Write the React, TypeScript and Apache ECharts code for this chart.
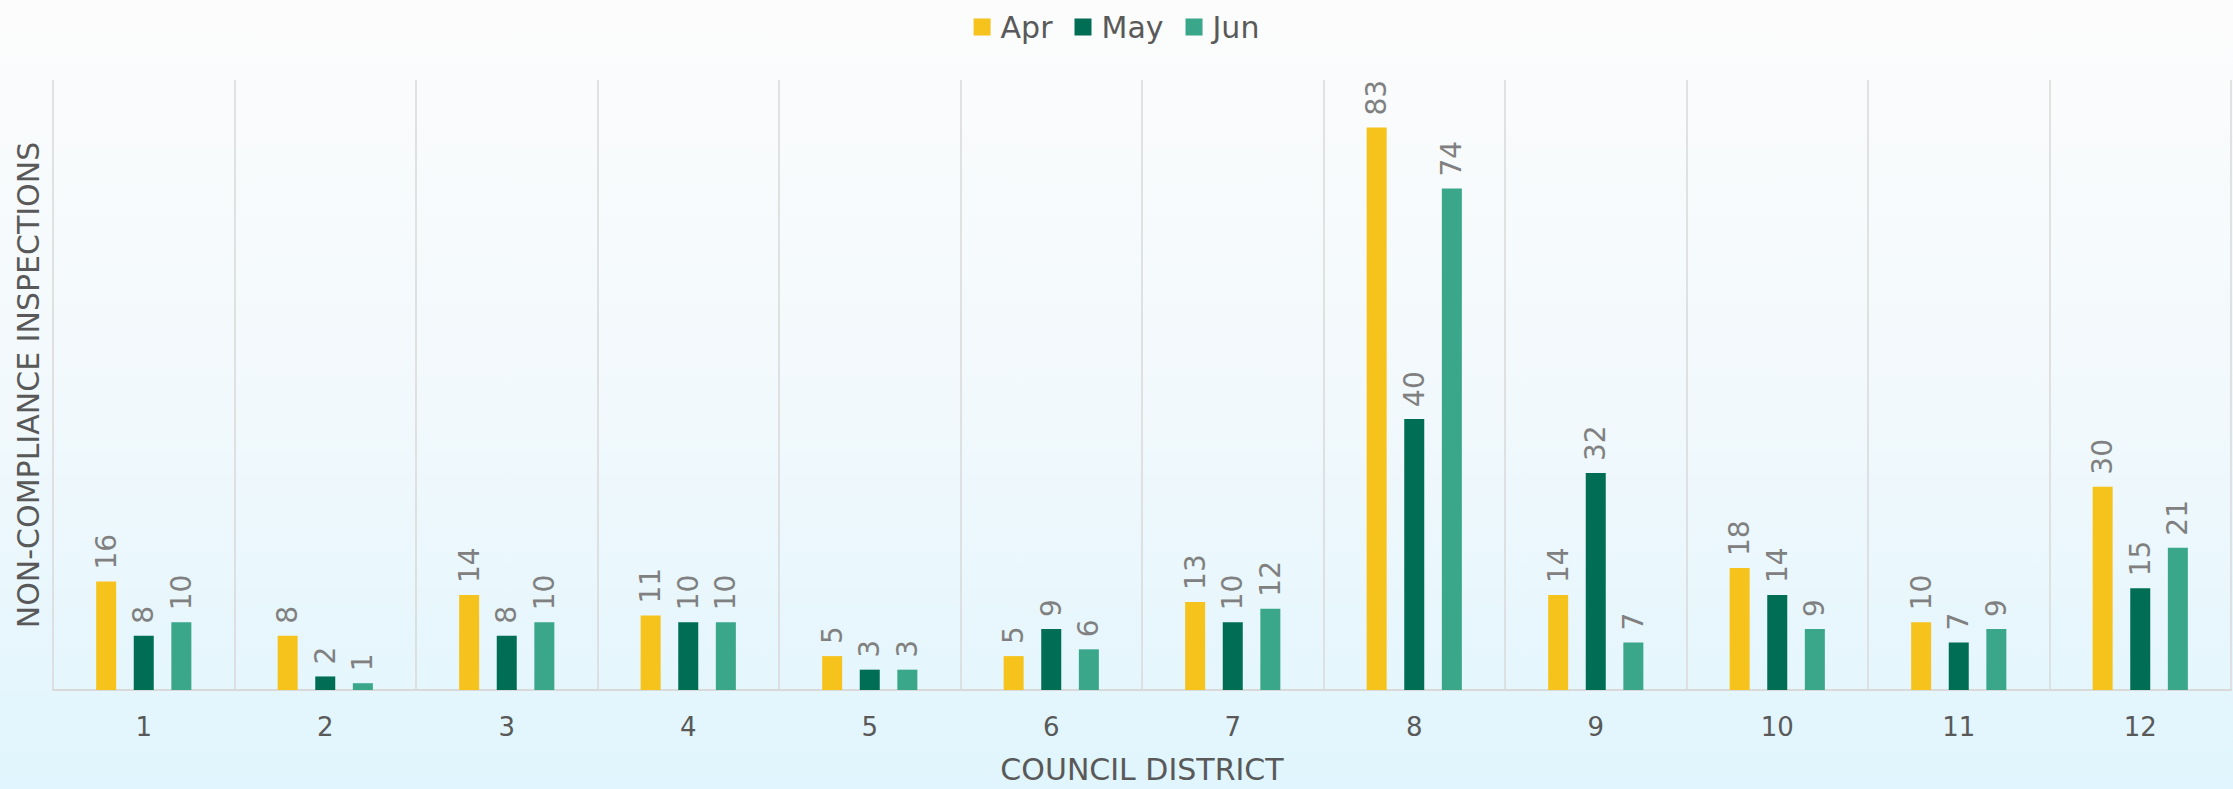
import React, { useEffect, useRef } from "react";
import * as echarts from "echarts";

const categories = ["1", "2", "3", "4", "5", "6", "7", "8", "9", "10", "11", "12"];
const seriesNames = ["Apr", "May", "Jun"];
const aprValues = [16, 8, 14, 11, 5, 5, 13, 83, 14, 18, 10, 30];
const mayValues = [8, 2, 8, 10, 3, 9, 10, 40, 32, 14, 7, 15];
const junValues = [10, 1, 10, 10, 3, 6, 12, 74, 7, 9, 9, 21];
const colors = ["#F6C31C", "#006E55", "#3AA68A"];

const FONT = "'DejaVu Sans', sans-serif";

export default function App() {
  const ref = useRef<HTMLDivElement>(null);
  useEffect(() => {
    if (!ref.current) return;
    const chart = echarts.init(ref.current, null, { renderer: "svg" });
    const values = [aprValues, mayValues, junValues];
    const option = {
      animation: false,
      backgroundColor: "transparent",
      textStyle: { fontFamily: FONT },
      legend: {
        data: seriesNames,
        top: 7,
        left: "center",
        itemWidth: 17,
        itemHeight: 17,
        itemGap: 22,
        icon: "rect",
        textStyle: { fontSize: 30, color: "#595959", fontFamily: FONT, padding: [0, 0, 0, 5] },
      },
      grid: { left: 53, right: 2, top: 80, bottom: 99, containLabel: false },
      xAxis: {
        type: "category",
        data: categories,
        name: "COUNCIL DISTRICT",
        nameLocation: "middle",
        nameGap: 64,
        nameTextStyle: { fontSize: 30, color: "#595959", fontFamily: FONT },
        axisLine: { show: true, lineStyle: { color: "#d9d9d9", width: 2 } },
        axisTick: { show: false },
        axisLabel: { fontSize: 26, color: "#595959", margin: 24, fontFamily: FONT },
        splitLine: { show: true, interval: 0, lineStyle: { color: "#d9d9d9", width: 1.5 } },
      },
      yAxis: {
        type: "value",
        min: 0,
        max: 90,
        name: "NON-COMPLIANCE INSPECTIONS",
        nameLocation: "middle",
        nameGap: 10,
        nameTextStyle: { fontSize: 30, color: "#595959", fontFamily: FONT },
        axisLine: { show: false },
        axisTick: { show: false },
        axisLabel: { show: false },
        splitLine: { show: false },
      },
      series: seriesNames.map((name, i) => ({
        name,
        type: "bar",
        data: values[i],
        barWidth: 20,
        barGap: "88%",
        itemStyle: { color: colors[i] },
        label: {
          show: true,
          position: "top",
          rotate: 90,
          align: "left",
          verticalAlign: "middle",
          distance: 12,
          fontSize: 28,
          color: "#808080",
          fontFamily: FONT,
        },
      })),
    };
    chart.setOption(option);
    return () => chart.dispose();
  }, []);
  return (
    <div
      ref={ref}
      style={{
        position: "absolute",
        left: 0,
        top: 0,
        width: 2233,
        height: 789,
        background: "linear-gradient(to bottom, #fcfcfc 0%, #f2f9fc 50%, #e0f5fd 100%)",
      }}
    />
  );
}
